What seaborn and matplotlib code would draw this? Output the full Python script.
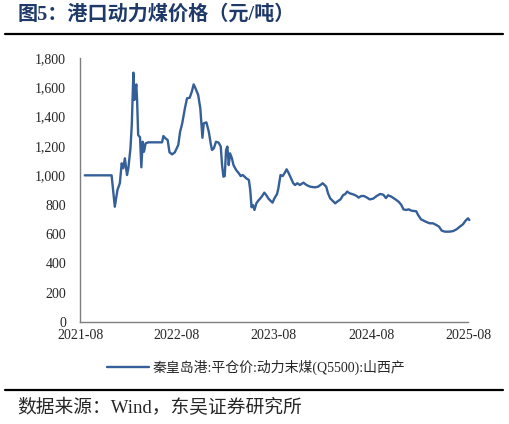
import pandas as pd
import seaborn as sns
import matplotlib.pyplot as plt
import matplotlib.dates as mdates
from matplotlib.ticker import FuncFormatter

# 秦皇岛港 平仓价 动力末煤(Q5500) 山西产, 元/吨
dates = ['2021-08-19', '2021-11-28', '2021-12-10', '2021-12-20', '2021-12-29',
         '2022-01-05', '2022-01-11', '2022-01-17', '2022-01-25', '2022-01-30',
         '2022-02-07', '2022-02-12', '2022-02-18', '2022-02-22', '2022-02-25',
         '2022-03-01', '2022-03-04', '2022-03-08', '2022-03-15', '2022-03-20',
         '2022-03-25', '2022-03-30', '2022-04-05', '2022-04-15', '2022-06-06',
         '2022-06-11', '2022-06-19', '2022-06-27', '2022-07-04', '2022-07-14',
         '2022-07-24', '2022-08-06', '2022-08-13', '2022-08-21', '2022-08-31',
         '2022-09-08', '2022-09-18', '2022-09-26', '2022-10-03', '2022-10-10',
         '2022-10-20', '2022-10-28', '2022-11-05', '2022-11-10', '2022-11-20',
         '2022-11-29', '2022-12-06', '2022-12-11', '2022-12-18', '2022-12-26',
         '2023-01-05', '2023-01-13', '2023-01-18', '2023-01-23', '2023-01-28',
         '2023-02-02', '2023-02-07', '2023-02-12', '2023-02-17', '2023-02-24',
         '2023-03-02', '2023-03-12', '2023-03-22', '2023-03-29', '2023-04-06',
         '2023-04-19', '2023-04-29', '2023-05-04', '2023-05-09', '2023-05-14',
         '2023-05-20', '2023-05-27', '2023-06-03', '2023-06-11', '2023-06-18',
         '2023-06-26', '2023-07-03', '2023-07-11', '2023-07-19', '2023-07-27',
         '2023-08-03', '2023-08-13', '2023-08-18', '2023-08-26', '2023-09-03',
         '2023-09-10', '2023-09-18', '2023-09-26', '2023-10-03', '2023-10-13',
         '2023-10-20', '2023-10-28', '2023-11-07', '2023-11-20', '2023-12-02',
         '2023-12-15', '2024-01-03', '2024-01-15', '2024-02-01', '2024-02-14',
         '2024-02-21', '2024-02-29', '2024-03-09', '2024-03-19', '2024-03-26',
         '2024-04-08', '2024-04-18', '2024-04-25', '2024-05-03', '2024-05-13',
         '2024-05-25', '2024-06-08', '2024-06-15', '2024-06-25', '2024-07-05',
         '2024-07-15', '2024-07-27', '2024-08-09', '2024-08-22', '2024-09-04',
         '2024-09-16', '2024-09-26', '2024-10-04', '2024-10-16', '2024-11-01',
         '2024-11-14', '2024-11-23', '2024-12-01', '2024-12-11', '2024-12-21',
         '2024-12-31', '2025-01-18', '2025-01-25', '2025-02-05', '2025-02-15',
         '2025-02-25', '2025-03-10', '2025-03-22', '2025-04-04', '2025-04-14',
         '2025-04-24', '2025-05-06', '2025-05-24', '2025-06-06', '2025-06-19',
         '2025-07-01', '2025-07-13', '2025-07-23', '2025-08-01', '2025-08-06']
prices = [1000, 1000, 786, 900, 946,
          1082, 1048, 1116, 1002, 1048,
          1184, 1343, 1700, 1514, 1570,
          1620, 1514, 1275, 1259, 1055,
          1229, 1161, 1218, 1225, 1225,
          1268, 1252, 1241, 1157, 1143,
          1157, 1207, 1297, 1355, 1457,
          1525, 1529, 1570, 1620, 1593,
          1548, 1457, 1256, 1355, 1361,
          1297, 1218, 1173, 1184, 1229,
          1223, 1196, 1070, 991, 995,
          1173, 1196, 1070, 1150, 1116,
          1070, 1036, 1014, 995, 1002,
          980, 968, 900, 782, 798,
          764, 809, 827, 843, 859,
          882, 866, 843, 827, 814,
          843, 873, 912, 1002, 995,
          1014, 1041, 1014, 986, 946,
          934, 946, 934, 950, 934,
          923, 918, 923, 946, 923,
          877, 843, 827, 809, 820,
          836, 866, 871, 889, 877,
          871, 859, 848, 859, 859,
          850, 836, 841, 859, 873,
          868, 845, 864, 855, 836,
          818, 798, 768, 764, 768,
          759, 755, 730, 700, 691,
          682, 673, 673, 661, 650,
          623, 616, 616, 620, 632,
          650, 666, 691, 707, 695]

series_name = '秦皇岛港:平仓价:动力末煤(Q5500):山西产'
x_ticks = ['2021-08', '2022-08', '2023-08', '2024-08', '2025-08']

df = pd.DataFrame({'date': pd.to_datetime(dates), 'price': prices})

sns.set_style('white')
plt.rcParams['font.family'] = ['Liberation Serif', 'Noto Sans CJK SC']

fig = plt.figure(figsize=(5.1, 4.24), dpi=100)
ax = fig.add_axes([80 / 510, 1 - 322 / 424, 388 / 510, 264 / 424])

sns.lineplot(data=df, x='date', y='price', ax=ax, color='#355f98',
             linewidth=1.7, label=series_name, clip_on=False)

ax.set_xlim(pd.Timestamp('2021-08-01'), pd.Timestamp('2025-08-01'))
ax.set_ylim(0, 1800)
ax.set_xticks(pd.to_datetime(x_ticks))
ax.xaxis.set_major_formatter(mdates.DateFormatter('%Y-%m'))
ax.set_yticks(range(0, 1801, 200))
ax.yaxis.set_major_formatter(FuncFormatter(lambda v, p: f'{int(v):,}'))
ax.set_xlabel('')
ax.set_ylabel('')

sns.despine(ax=ax)
for s in ['left', 'bottom']:
    ax.spines[s].set_color('#7f7f7f')
    ax.spines[s].set_linewidth(1.0)
ax.tick_params(axis='y', direction='out', length=4, width=1, color='#7f7f7f',
               labelsize=10, pad=6)
ax.tick_params(axis='x', direction='in', length=4, width=1, color='#7f7f7f',
               labelsize=10, pad=5)

ax.legend(loc='upper center', bbox_to_anchor=(0.455, -0.095), frameon=False,
          fontsize=10, handlelength=3.0, handletextpad=0.3)

fig.text(18 / 510, 1 - 15 / 424, '图5：港口动力煤价格（元/吨）', fontsize=14.5,
         fontweight='bold', color='#1f3a68', va='center', ha='left')
fig.add_artist(plt.Line2D([5 / 510, 503 / 510], [1 - 34 / 424, 1 - 34 / 424],
                          color='black', linewidth=1.6))
fig.add_artist(plt.Line2D([5 / 510, 503 / 510], [1 - 390 / 424, 1 - 390 / 424],
                          color='black', linewidth=1.6))
fig.text(17 / 510, 1 - 408 / 424, '数据来源：Wind，东吴证券研究所', fontsize=13.5,
         va='center', ha='left')

fig.savefig('out.png', dpi=100)
